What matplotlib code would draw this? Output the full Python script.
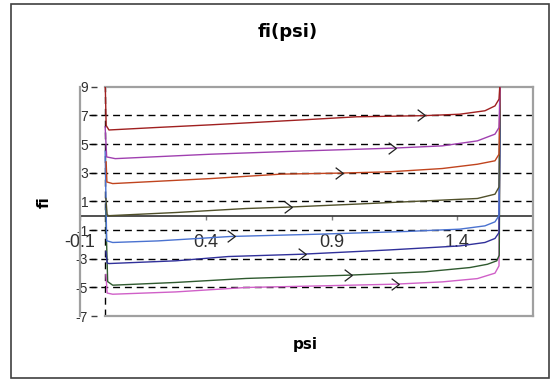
import numpy as np
import matplotlib.pyplot as plt
from matplotlib.patches import Rectangle

# fi(psi) curves, every curve shoots up at psi = pi/2
psi_red = [0.0, 0.004, 0.015, 0.2, 0.42, 0.79, 1.0, 1.27, 1.41, 1.51, 1.55, 1.566, 1.5708]
fi_red = [9.5, 6.3, 5.98, 6.15, 6.34, 6.69, 6.9, 6.98, 7.08, 7.32, 7.66, 8.13, 9.5]

psi_purple = [0.0, 0.006, 0.04, 0.42, 0.79, 1.14, 1.34, 1.48, 1.55, 1.566, 1.5708]
fi_purple = [6.2, 4.1, 3.98, 4.29, 4.52, 4.71, 4.87, 5.22, 5.69, 6.15, 9.5]

psi_orange = [0.004, 0.007, 0.03, 0.42, 0.7, 0.93, 1.13, 1.34, 1.48, 1.55, 1.566, 1.5708]
fi_orange = [3.75, 2.35, 2.24, 2.59, 2.9, 2.97, 3.06, 3.29, 3.59, 3.83, 4.29, 9.5]

psi_olive = [0.003, 0.008, 0.015, 0.28, 0.56, 0.73, 0.99, 1.27, 1.48, 1.55, 1.566, 1.5708]
fi_olive = [1.2, 0.05, 0.0, 0.22, 0.5, 0.6, 0.8, 1.03, 1.2, 1.5, 2.0, 9.5]

psi_blue = [0.0, 0.006, 0.03, 0.21, 0.5, 0.85, 1.2, 1.41, 1.51, 1.55, 1.566, 1.5708]
fi_blue = [4.5, -1.75, -1.87, -1.76, -1.45, -1.29, -1.1, -0.94, -0.71, -0.43, 0.0, 9.5]

psi_navy = [0.003, 0.008, 0.015, 0.28, 0.49, 0.78, 1.13, 1.41, 1.51, 1.55, 1.566, 1.5708]
fi_navy = [-2.5, -3.3, -3.34, -3.15, -2.85, -2.69, -2.39, -2.11, -1.87, -1.59, -1.18, 9.5]

psi_green = [0.002, 0.01, 0.03, 0.28, 0.56, 0.97, 1.27, 1.45, 1.52, 1.557, 1.567, 1.5708]
fi_green = [0.5, -4.6, -4.85, -4.66, -4.38, -4.15, -3.92, -3.62, -3.39, -3.15, -2.76, 9.5]

psi_pink = [0.003, 0.008, 0.03, 0.28, 0.56, 0.85, 1.15, 1.34, 1.48, 1.55, 1.566, 1.5708]
fi_pink = [-4.1, -5.4, -5.48, -5.32, -5.01, -4.9, -4.78, -4.62, -4.39, -4.01, -3.5, 9.5]

# direction arrows on the curves
arrow_psi = [1.255, 1.142, 0.93, 0.726, 0.5, 0.783, 0.966, 1.153]
arrow_fi = [7.0, 4.71, 2.97, 0.6, -1.45, -2.69, -4.13, -4.78]

dash_levels = [7, 5, 3, 1, -1, -3, -5]
x_ticks = [-0.1, 0.4, 0.9, 1.4]
x_labels = ['-0.1', '0.4', '0.9', '1.4']
y_ticks = [9, 7, 5, 3, 1, -1, -3, -5, -7]
y_labels = ['9', '7', '5', '3', '1', '-1', '-3', '-5', '-7']

# bottom curve first, top (red) last
curvas = [
    (psi_pink, fi_pink, '#d060c8'),
    (psi_green, fi_green, '#2f5a2f'),
    (psi_navy, fi_navy, '#30309a'),
    (psi_blue, fi_blue, '#4a72d0'),
    (psi_olive, fi_olive, '#50502a'),
    (psi_orange, fi_orange, '#c0441e'),
    (psi_purple, fi_purple, '#a040b0'),
    (psi_red, fi_red, '#a02020'),
]

fig = plt.figure(figsize=(5.55, 3.79), dpi=100)
ax = fig.add_axes([80 / 555, 63 / 379, 452.7 / 555, 229.3 / 379])
ax.set_xlim(-0.1, 1.7)
ax.set_ylim(-7, 9)
ax.set_xticks([])
ax.set_yticks([])

caja = '#a0a0a0'
for lado in ['top', 'bottom', 'left', 'right']:
    ax.spines[lado].set_visible(False)
# box: full left and right edges, top and bottom only start at psi = 0
ax.plot([-0.1, -0.1], [-7, 9], color=caja, lw=1.6, clip_on=False)
ax.plot([1.7, 1.7], [-7, 9], color=caja, lw=1.6, clip_on=False)
ax.plot([0, 1.7], [9, 9], color=caja, lw=1.6, clip_on=False)
ax.plot([0, 1.7], [-7, -7], color=caja, lw=1.6, clip_on=False)

# dashed guides
ax.hlines(dash_levels, -0.065, 1.7, colors='black', linestyles=(0, (5, 3.5)), lw=1.0, zorder=1)
ax.vlines(0, -7, 9, colors='black', linestyles=(0, (5, 3.5)), lw=1.0, zorder=1)
ax.axhline(0, color='#202020', lw=1.1, zorder=1)

for psi, fi, color in curvas:
    ax.plot(psi, fi, color=color, lw=1.0, zorder=2)

chevron = [(-0.66, 1), (0.66, 0), (-0.66, -1)]
ax.plot(arrow_psi, arrow_fi, ls='none', marker=chevron, ms=8.4, mfc='none',
        mec='#202020', mew=0.9, zorder=3)

# y ticks sit a little right of the left edge
sy = ax.secondary_yaxis(0.0365)
sy.set_yticks(y_ticks, labels=y_labels)
sy.spines['left'].set_visible(False)
sy.spines['right'].set_visible(False)
sy.tick_params(length=4, width=1, color='#404040', pad=2, labelsize=10, labelcolor='#303030')
for t in sy.get_yticklabels():
    t.set_fontfamily('Liberation Sans')

# x ticks sit on the fi = 0 line
sx = ax.secondary_xaxis(7 / 16)
sx.set_xticks(x_ticks, labels=x_labels)
sx.spines['bottom'].set_visible(False)
sx.spines['top'].set_visible(False)
sx.tick_params(length=3, width=1, color='#808080', pad=10.5, labelsize=13, labelcolor='#303030')
for t in sx.get_xticklabels():
    t.set_fontfamily('Liberation Sans')

fig.text(288 / 555, 1 - 32 / 379, 'fi(psi)', ha='center', va='center', fontsize=13, fontweight='bold')
fig.text(305 / 555, 1 - 345 / 379, 'psi', ha='center', va='center', fontsize=11, fontweight='bold')
fig.text(44 / 555, 1 - 202 / 379, 'fi', ha='center', va='center', rotation=90, fontsize=11, fontweight='bold')

# outer frame
fig.add_artist(Rectangle((10.5 / 555, 1.5 / 379), 538.5 / 555, 373.5 / 379,
                         transform=fig.transFigure, fill=False, ec='#404040', lw=1.2))

fig.savefig('out.png', dpi=100)
